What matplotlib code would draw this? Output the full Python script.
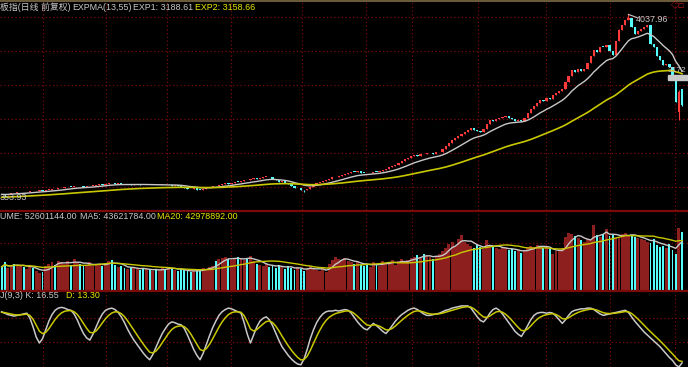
import numpy as np
import pandas as pd
import matplotlib
matplotlib.use('Agg')
from matplotlib import pyplot as plt
from matplotlib.lines import Line2D
from matplotlib.patches import Rectangle

# daily closes (index points)
closes = [
    1390, 1383, 1398, 1412, 1405, 1420, 1428, 1423, 1431, 1440,
    1436, 1445, 1452, 1448, 1456, 1462, 1470, 1465, 1478, 1490,
    1497, 1505, 1500, 1508, 1518, 1512, 1505, 1510, 1515, 1522,
    1530, 1541, 1536, 1548, 1560, 1554, 1548, 1552, 1545, 1538,
    1544, 1535, 1540, 1546, 1536, 1530, 1534, 1527, 1532, 1525,
    1529, 1533, 1524, 1528, 1521, 1526, 1520, 1505, 1488, 1470,
    1466, 1478, 1462, 1456, 1470, 1488, 1502, 1515, 1510, 1528,
    1540, 1552, 1545, 1565, 1580, 1572, 1590, 1603, 1596, 1612,
    1625, 1618, 1636, 1645, 1651, 1640, 1622, 1600, 1578, 1585,
    1560, 1540, 1512, 1481, 1490, 1462, 1450, 1475, 1502, 1530,
    1554, 1570, 1592, 1605, 1622, 1640, 1651, 1668, 1680, 1698,
    1712, 1725, 1718, 1735, 1712, 1705, 1700, 1712, 1725, 1718,
    1738, 1750, 1768, 1790, 1805, 1823, 1850, 1880, 1905, 1930,
    1952, 1970, 1960, 1985, 1978, 1995, 2003, 1992, 2010, 2018,
    2060, 2105, 2150, 2190, 2220, 2248, 2280, 2310, 2340, 2361,
    2345, 2330, 2312, 2360, 2420, 2483, 2470, 2505, 2520, 2531,
    2545, 2510, 2493, 2470, 2490, 2473, 2520, 2581, 2640, 2690,
    2735, 2776, 2760, 2810, 2795, 2850, 2880, 2915, 2948, 3040,
    3130, 3216, 3190, 3235, 3210, 3241, 3330, 3420, 3510, 3480,
    3560, 3558, 3590, 3500, 3436, 3640, 3803, 3880, 3960, 3985,
    3860, 3755, 3790, 3828, 3850, 3877, 3608, 3560, 3420, 3363,
    3300, 3310, 3265, 3118, 2750, 2900, 2706]
first_open = 1395
open_fix = {215: 2600, 216: 2941}
high_fix = {199: 4037.96, 196: 3830, 206: 3700, 215: 2920}
low_fix = {1: 1353.93, 96: 1425, 215: 2486, 216: 2690}

# volume in millions
volumes = [
    21, 25, 20, 22, 24, 22, 23, 21, 19, 22,
    20, 17, 15, 16, 22, 24, 25, 23, 26, 25,
    24, 26, 23, 28, 25, 24, 22, 23, 25, 22,
    24, 23, 22, 24, 26, 27, 23, 21, 22, 20,
    19, 21, 20, 19, 18, 20, 19, 18, 17, 19,
    18, 20, 19, 21, 20, 18, 17, 19, 18, 17,
    16, 17, 19, 18, 20, 19, 21, 22, 26, 28,
    29, 30, 28, 27, 29, 30, 28, 27, 29, 31,
    26, 24, 23, 22, 24, 21, 22, 20, 23, 21,
    19, 22, 20, 18, 21, 19, 17, 20, 22, 19,
    18, 17, 20, 16, 24, 27, 30, 28, 27, 29,
    26, 25, 24, 25, 23, 22, 24, 21, 25, 23,
    22, 26, 24, 25, 27, 23, 26, 28, 25, 27,
    29, 30, 32, 29, 33, 31, 30, 28, 31, 33,
    35, 38, 42, 44, 40, 46, 50, 44, 42, 40,
    38, 41, 39, 37, 45, 40, 39, 38, 37, 39,
    38, 36, 37, 35, 36, 34, 36, 38, 40, 39,
    41, 40, 38, 39, 37, 33, 35, 36, 38, 48,
    52, 51, 49, 47, 45, 44, 46, 45, 59, 50,
    48, 51, 55, 49, 50, 47, 48, 51, 52, 49,
    50, 48, 47, 46, 45, 44, 43, 46, 41, 39,
    40, 38, 42, 36, 33, 56, 52.601144]

k_vals = [
    87, 85, 83, 82, 81, 82, 83, 84, 85, 78,
    66, 52, 44, 50, 62, 74, 83, 89, 92, 93,
    92, 90, 89, 84, 76, 66, 57, 51, 48, 56,
    66, 76, 84, 89, 91, 92, 90, 86, 80, 72,
    63, 55, 48, 42, 36, 30, 25, 21, 28, 38,
    48, 57, 64, 70, 73, 72, 70, 69, 64, 55,
    45, 35, 27, 21, 30, 42, 54, 65, 74, 82,
    87, 90, 92, 91, 89, 87, 85, 72, 56, 44,
    55, 66, 74, 78, 80, 76, 68, 58, 48, 39,
    33, 27, 22, 18, 15, 14, 22, 35, 50, 62,
    72, 79, 84, 87, 88, 88, 89, 88, 89, 90,
    89, 85, 79, 73, 68, 64, 62, 66, 71, 68,
    64, 60, 57, 62, 68, 74, 79, 83, 86, 89,
    91, 92, 90, 87, 84, 82, 82, 83, 84, 85,
    87, 89, 90, 92, 93, 94, 95, 95, 95, 92,
    86, 80, 75, 73, 78, 85, 90, 92, 89, 84,
    78, 72, 66, 60, 56, 53, 60, 68, 76, 82,
    85, 86, 86, 85, 86, 85, 81, 76, 71, 76,
    82, 87, 89, 90, 91, 91, 92, 92, 90, 87,
    84, 82, 83, 84, 85, 86, 87, 88, 89, 86,
    80, 74, 69, 64, 59, 55, 51, 47, 43, 39,
    34, 29, 24, 20, 14, 11, 16.55]

exp1_start, exp2_start, d_start = 1392, 1348, 85.7
month_lines = [13, 33.3, 52.4, 72.8, 95.4, 115.7, 130.3, 151.2, 172.8, 193.1, 213.8]
price_grid = [1500, 2000, 2500, 3000, 3500, 4000]

n = len(closes)
if not (len(volumes) == n and len(k_vals) == n):
    raise SystemExit(f"length mismatch {n} {len(volumes)} {len(k_vals)}")

x = np.arange(n)
c = np.array(closes, float)
o = np.r_[first_open, c[:-1]]
for i, v in open_fix.items():
    o[i] = v
hi = np.maximum(o, c)
lo = np.minimum(o, c)
for i, v in high_fix.items():
    hi[i] = v
for i, v in low_fix.items():
    lo[i] = v
up = c >= o

# EXPMA(13,55)
exp1, exp2 = [], []
e1, e2 = exp1_start, exp2_start
for v in c:
    e1 = (2 * v + 12 * e1) / 14
    e2 = (2 * v + 54 * e2) / 56
    exp1.append(e1)
    exp2.append(e2)

vol = pd.Series(volumes, dtype=float)
ma5 = vol.rolling(5, min_periods=1).mean()
ma20 = vol.rolling(20, min_periods=1).mean()

d_vals = []
d = d_start
for k in k_vals:
    d = (k + 2 * d) / 3
    d_vals.append(d)

RED = '#ff3a3a'
CYAN = '#54fcfc'
VRED = '#8e1f1f'
GRID = '#7a0a0a'
WHITE = '#c8c8c8'
YEL = '#c8c800'

W, H = 688, 367
fig = plt.figure(figsize=(W / 100, H / 100), dpi=100, facecolor='black')
plt.rcParams['font.family'] = ['Liberation Sans', 'Noto Sans CJK SC']

ax_p = fig.add_axes([0, 157 / H, 1, 210 / H])
ax_v = fig.add_axes([0, 77 / H, 1, 80 / H])
ax_k = fig.add_axes([0, 0, 1, 77 / H])
xl = (-1.6 / 3.15, (W - 1.6) / 3.15)
for ax in (ax_p, ax_v, ax_k):
    ax.set_facecolor('black')
    ax.set_xlim(*xl)
    ax.axis('off')
    for m in month_lines:
        ax.axvline(m, color=GRID, lw=0.9, ls=(0, (1, 2)), zorder=0)

# price panel
ax_p.set_ylim(1161.7, 4250)
for g in price_grid:
    ax_p.axhline(g, color=GRID, lw=0.9, ls=(0, (1, 2)), zorder=0)
cols = np.where(up, RED, CYAN)
ax_p.vlines(x, lo, hi, colors=cols, lw=0.8, zorder=2)
body = np.maximum(np.abs(c - o), 10)
ax_p.bar(x, body, bottom=np.minimum(o, c), width=0.7, color=cols, zorder=3)
ax_p.plot(x, exp1, color=WHITE, lw=1.0, zorder=4)
ax_p.plot(x, exp2, color=YEL, lw=1.2, zorder=4)
ax_p.plot([199, 201.8], [4037.96, 3990], color=WHITE, lw=0.8)

# volume panel
ax_v.set_ylim(0, 72.6)
ax_v.axhline(42.6, color=GRID, lw=0.9, ls=(0, (1, 2)), zorder=0)
ax_v.bar(x[up], vol[up], width=0.95, color=VRED, zorder=2)
ax_v.bar(x[~up], vol[~up], width=0.6, color=CYAN, zorder=3)
ax_v.plot(x, ma5, color=WHITE, lw=1.0, zorder=4)
ax_v.plot(x, ma20, color=YEL, lw=1.0, zorder=4)

# KDJ panel
ax_k.set_ylim(11.0, 116.9)
for g in (78.4, 45.4):
    ax_k.axhline(g, color=GRID, lw=0.9, ls=(0, (1, 2)), zorder=0)
ax_k.plot(x, k_vals, color=WHITE, lw=1.1, zorder=3)
ax_k.plot(x, d_vals, color=YEL, lw=1.1, zorder=3)

# frame lines
fig.add_artist(Line2D([0, 1], [1 - 0.8 / H] * 2, color='#6b5a3a', lw=1.5))
fig.add_artist(Line2D([0, 1], [1 - 210.5 / H] * 2, color='#7a0a0a', lw=1.6))
fig.add_artist(Line2D([0, 1], [1 - 290.5 / H] * 2, color='#7a0a0a', lw=1.6))
fig.add_artist(Rectangle((668 / W, 1 - 80 / H), 20 / W, 5 / H, color='#c8c8c8',
                         transform=fig.transFigure))

FS = 6.4


def ftext(px, py, s, color, size=FS):
    fig.text(px / W, 1 - py / H, s, color=color, fontsize=size, va='center', ha='left')


ftext(0, 7, '板指(日线 前复权)', WHITE)
ftext(72, 7, 'EXPMA(13,55)', WHITE)
ftext(133, 7, 'EXP1: 3188.61', WHITE)
ftext(195, 7, 'EXP2: 3158.66', '#e8e800')
ftext(671, 6, '◇□', '#e02020', 6)
ftext(636, 20, '4037.96', WHITE)
ftext(668, 70, '3172', WHITE, 6)
ftext(0, 198, '353.93', WHITE)
ftext(0, 217, 'UME: 52601144.00', WHITE)
ftext(80, 217, 'MA5: 43621784.00', WHITE)
ftext(157, 217, 'MA20: 42978892.00', '#e8e800')
ftext(0, 296, 'J(9,3) K: 16.55', WHITE)
ftext(66, 296, 'D: 13.30', '#e8e800')

fig.savefig('out.png', dpi=100, facecolor='black')
